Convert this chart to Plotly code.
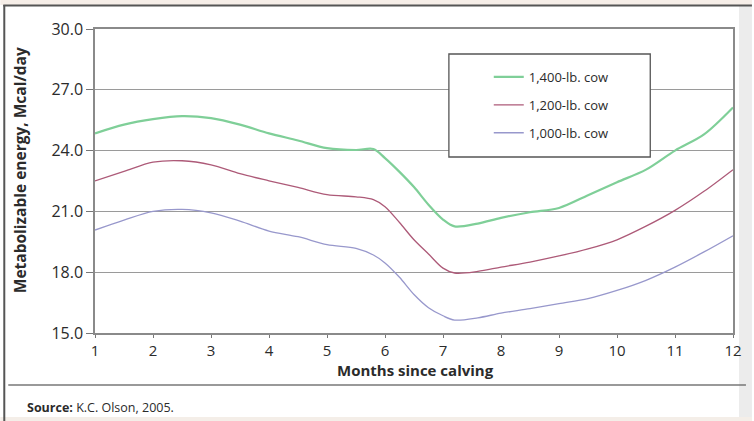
import plotly.graph_objects as go

# ---- data ----
months = [1, 1.5, 2, 2.5, 3, 3.5, 4, 4.5, 5, 5.5, 5.8, 6, 6.25, 6.5, 6.75, 7, 7.2, 7.6, 8,
          8.5, 9, 9.5, 10, 10.5, 11, 11.5, 12]
cow_1400 = [24.85, 25.28, 25.55, 25.7, 25.6, 25.28, 24.85, 24.5, 24.12, 24.03, 24.08, 23.63,
            22.95, 22.2, 21.33, 20.6, 20.26, 20.4, 20.68, 20.96, 21.17, 21.8, 22.44, 23.06,
            24.0, 24.8, 26.13]
cow_1200 = [22.5, 22.97, 23.43, 23.5, 23.3, 22.86, 22.51, 22.18, 21.83, 21.72, 21.58, 21.23,
            20.45, 19.6, 18.9, 18.2, 17.96, 18.04, 18.25, 18.5, 18.8, 19.15, 19.6, 20.27,
            21.05, 21.99, 23.06]
cow_1000 = [20.08, 20.57, 21.0, 21.1, 20.93, 20.52, 20.03, 19.75, 19.36, 19.18, 18.85, 18.46,
            17.75, 16.9, 16.25, 15.85, 15.64, 15.75, 15.98, 16.2, 16.45, 16.7, 17.1, 17.6,
            18.25, 19.0, 19.8]
series_names = ["1,400-lb. cow", "1,200-lb. cow", "1,000-lb. cow"]
x_ticks = list(range(1, 13))
y_ticks = [15, 18, 21, 24, 27, 30]

# ---- geometry helpers (pixel -> paper) ----
W, H = 754, 421
L, R, T, B = 95, 19, 29, 88
PW, PH = W - L - R, H - T - B


def px(x):
    return (x - L) / PW


def py(y):
    return (H - B - y) / PH


colors = ["#7fcf98", "#ad5a78", "#9898cc"]
widths = [2.2, 1.3, 1.3]
series = [cow_1400, cow_1200, cow_1000]

fig = go.Figure()
for i, (name, vals) in enumerate(zip(series_names, series)):
    fig.add_trace(go.Scatter(
        x=months, y=vals, name=name, mode="lines", legendgroup=f"g{i}",
        line=dict(color=colors[i], width=widths[i], shape="spline", smoothing=0.9),
    ))

font_main = "Open Sans"
txt = "#2b2b2b"

fig.update_layout(
    width=W, height=H,
    margin=dict(l=L, r=R, t=T, b=B, pad=0),
    paper_bgcolor="white",
    plot_bgcolor="white",
    showlegend=True,
    legend=dict(
        x=px(490), y=py(62), xanchor="left", yanchor="top",
        bgcolor="rgba(0,0,0,0)", borderwidth=0,
        font=dict(family=font_main, size=13, color=txt),
        tracegroupgap=8, traceorder="grouped",
    ),
    xaxis=dict(
        range=[1, 12], tickvals=x_ticks, ticktext=[str(v) for v in x_ticks],
        showgrid=False, zeroline=False,
        showline=True, linecolor="#8a8a8a", linewidth=1.5, mirror=True,
        ticks="outside", ticklen=3, tickcolor="#777", tickwidth=1.2,
        tickfont=dict(family=font_main, size=15, color=txt),
    ),
    yaxis=dict(
        range=[15, 30], tickvals=y_ticks, ticktext=[f"{v:.1f}" for v in y_ticks],
        showgrid=True, gridcolor="#9a9a9a", gridwidth=1.3, zeroline=False,
        showline=True, linecolor="#8a8a8a", linewidth=1.5, mirror=True,
        ticks="outside", ticklen=7, tickcolor="#777", tickwidth=1.2,
        tickfont=dict(family=font_main, size=16, color=txt),
    ),
    annotations=[
        dict(text="<b>Metabolizable energy, Mcal/day</b>", textangle=-90,
             x=px(20), y=py(170), xanchor="center", yanchor="middle",
             xref="paper", yref="paper", showarrow=False,
             font=dict(family=font_main, size=15.5, color=txt)),
        dict(text="<b>Months since calving</b>",
             x=px(417), y=py(370), xanchor="center", yanchor="middle",
             xref="paper", yref="paper", showarrow=False,
             font=dict(family=font_main, size=15, color=txt)),
        dict(text="<b>Source:</b> K.C. Olson, 2005.",
             x=px(25), y=py(407), xanchor="left", yanchor="middle",
             xref="paper", yref="paper", showarrow=False,
             font=dict(family=font_main, size=12.5, color=txt)),
    ],
    shapes=[
        # top beige band
        dict(type="rect", xref="paper", yref="paper", x0=px(0), x1=px(W), y0=py(0), y1=py(5),
             fillcolor="#f6eee8", line_width=0, layer="below"),
        # bottom beige band
        dict(type="rect", xref="paper", yref="paper", x0=px(0), x1=px(W), y0=py(417), y1=py(H),
             fillcolor="#f4eee8", line_width=0, layer="below"),
        # right shaded edge
        dict(type="rect", xref="paper", yref="paper", x0=px(741), x1=px(W), y0=py(6), y1=py(417),
             fillcolor="#ececec", line_width=0, layer="below"),
        # top frame line
        dict(type="line", xref="paper", yref="paper", x0=px(3), x1=px(W), y0=py(5.5), y1=py(5.5),
             line=dict(color="#555", width=2)),
        # left frame line
        dict(type="line", xref="paper", yref="paper", x0=px(4), x1=px(4), y0=py(5), y1=py(H),
             line=dict(color="#555", width=2)),
        # separator above source
        dict(type="line", xref="paper", yref="paper", x0=px(8), x1=px(748), y0=py(385), y1=py(385),
             line=dict(color="#777", width=1.6)),
        # legend box
        dict(type="rect", xref="paper", yref="paper", x0=px(450), x1=px(652), y0=py(54), y1=py(157),
             fillcolor="white", line=dict(color="#555", width=1.3), layer="above"),
    ],
)

fig.write_html("out.html", config={"displayModeBar": False},
               post_script="document.body.style.margin='0';")
